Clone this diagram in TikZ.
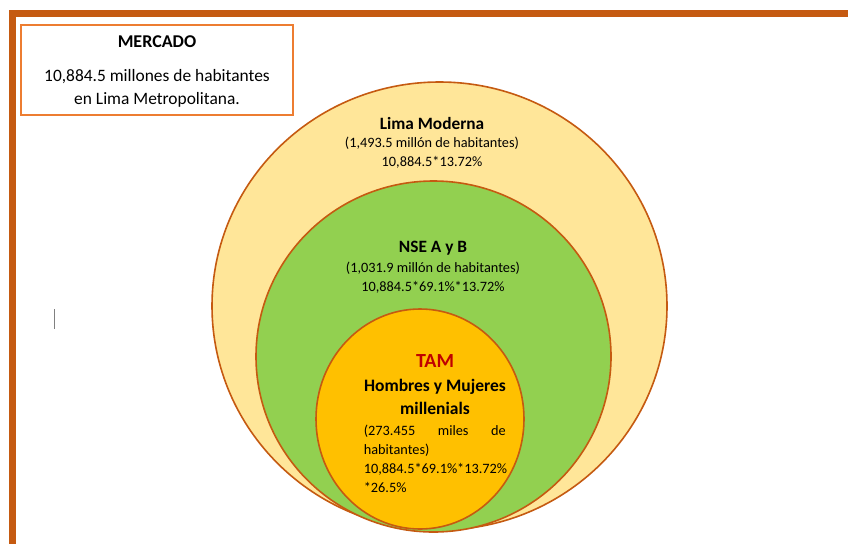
\documentclass[tikz,border=0pt]{standalone}
\usepackage{fontspec}
\setmainfont{Carlito}
\usetikzlibrary{shapes.geometric}

\definecolor{marco}{HTML}{C55A11}
\definecolor{borde}{HTML}{ED7D31}
\definecolor{amarillo}{HTML}{FFE699}
\definecolor{verde}{HTML}{92D050}
\definecolor{naranja}{HTML}{FFC000}
\definecolor{rojo}{HTML}{C00000}

\tikzset{
x=1pt, y=-1pt,
capa/.style={ellipse, draw=marco, line width=1.6pt, inner sep=0pt},
caja/.style={draw=borde, line width=1.2pt, inner sep=0pt},
titulo/.style={font=\fontsize{17.3}{20}\selectfont\bfseries},
texto/.style={font=\fontsize{17.4}{23}\selectfont, align=center},
dato/.style={font=\fontsize{14.3}{19}\selectfont, align=center},
}

\begin{document}
\begin{tikzpicture}
    \useasboundingbox (0,0) rectangle (848,544);

    % marco
    \fill[marco] (9,10) rectangle (848,17);
    \fill[marco] (9,10) rectangle (16,544);
    \draw[gray, line width=1pt] (54,309) -- (54,329);

    % mercado
    \node[caja, minimum width=272, minimum height=90] (mercado) at (157,70) {};
    \node[titulo, font=\fontsize{18}{20}\selectfont\bfseries] (mtit) at (157,42) {MERCADO};
    \node[texto] (mtex) at (157,88.5) {10,884.5 millones de habitantes\\en Lima Metropolitana.};

    % capas
    \node[capa, fill=amarillo, minimum width=455, minimum height=448] (lima) at (439.5,306) {};
    \node[capa, fill=verde, minimum width=355, minimum height=351] (nse) at (433.5,356.5) {};
    \node[capa, fill=naranja, minimum width=208, minimum height=220] (tam) at (420,419) {};

    \node[titulo] (ltit) at (432,123) {Lima Moderna};
    \node[dato] (ltex) at (432,153) {(1,493.5 millón de habitantes)\\10,884.5*13.72\%};

    \node[titulo] (ntit) at (433,248) {NSE A y B};
    \node[dato] (ntex) at (433,277.5) {(1,031.9 millón de habitantes)\\10,884.5*69.1\%*13.72\%};

    \node[titulo, font=\fontsize{20}{22}\selectfont\bfseries, text=rojo] (ttit) at (435,361) {TAM};
    \node[titulo, font=\fontsize{17.5}{23}\selectfont\bfseries, align=center] (tsub) at (435,396.5) {Hombres y Mujeres\\millenials};
    \node[dato, align=left] (ttex) at (435.5,458.5) {\hbox to 142pt{(273.455\hfill miles\hfill de}\\habitantes)\\10,884.5*69.1\%*13.72\%\\*26.5\%};
\end{tikzpicture}
\end{document}
